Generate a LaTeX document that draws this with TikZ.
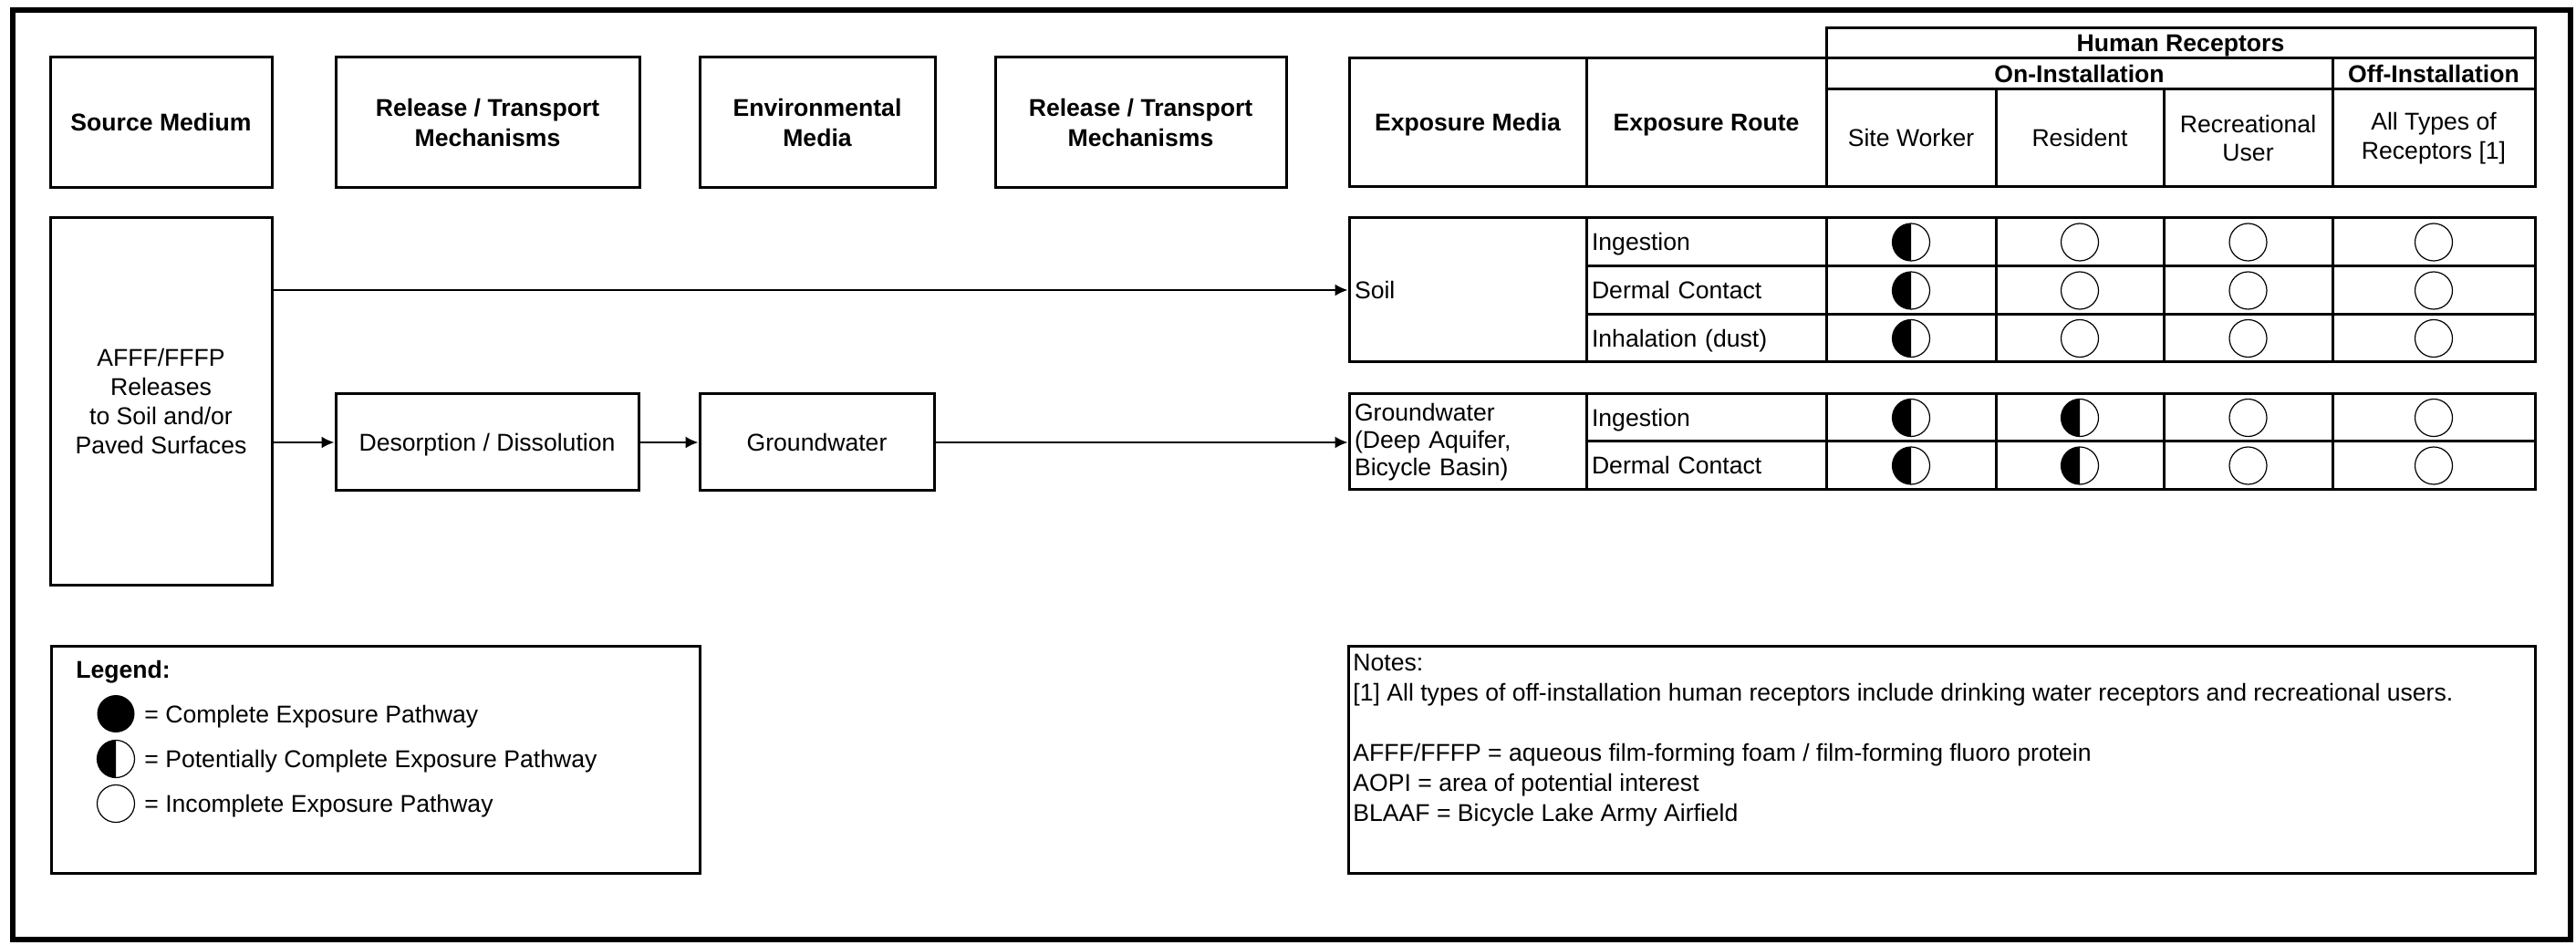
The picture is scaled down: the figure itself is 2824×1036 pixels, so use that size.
\documentclass[tikz,border=0pt]{standalone}
\usepackage{fontspec}
\setmainfont{Liberation Sans}
\usetikzlibrary{arrows.meta}
\begin{document}
\begin{tikzpicture}[x=0.5pt,y=-0.5pt,
  every node/.style={font=\fontsize{13.3}{16}\selectfont, inner sep=0pt},
  one/.style={text height=9.5pt, text depth=0pt},
  box/.style={draw, line width=1.5pt, align=center},
  hdr/.style={box, font=\fontsize{13.3}{16.5}\selectfont\bfseries},
  cell/.style={draw, line width=1.5pt, align=center},
  lcell/.style={draw, line width=1.5pt, align=left, inner xsep=3pt},
  flow/.style={line width=1pt, -{Latex[length=7pt,width=6.5pt]}},
  pfull/.pic={\fill[black] (0,0) circle[radius=10.25pt];},
  phalf/.pic={\fill[black] (0,10.25pt) arc[start angle=90,end angle=270,radius=10.25pt] -- cycle;
              \draw[line width=0.6pt] (0,0) circle[radius=10.25pt];},
  pnone/.pic={\draw[line width=0.6pt] (0,0) circle[radius=10.25pt];}
]
\useasboundingbox (0,0) rectangle (2824,1036);
% outer frame
\draw[line width=3pt] (14,11) rectangle (2818,1030);

% column headings of the pathway flow
\node[hdr, one, minimum width=121.5pt, minimum height=71.5pt] (hsrc) at (176.5,134.5) {Source Medium};
\node[hdr, minimum width=166.5pt, minimum height=71.5pt] (hrel1) at (534.5,134.5) {Release / Transport\\Mechanisms};
\node[hdr, minimum width=129pt, minimum height=71.5pt] (henv) at (896,134.5) {Environmental\\Media};
\node[hdr, minimum width=159.5pt, minimum height=71.5pt] (hrel2) at (1250.5,134.5) {Release / Transport\\Mechanisms};

% receptor table heading
\node[hdr, one, minimum width=130pt, minimum height=70.5pt] (hmedia) at (1609,134.5) {Exposure Media};
\node[hdr, one, minimum width=131.5pt, minimum height=70.5pt] (hroute) at (1870.5,134.5) {Exposure Route};
\node[hdr, one, minimum width=388.5pt, minimum height=16.5pt] (hhuman) at (2390.5,47.5) {Human Receptors};
\node[hdr, one, minimum width=277.5pt, minimum height=17pt] (hon) at (2279.5,81) {On-Installation};
\node[hdr, one, minimum width=111pt, minimum height=17pt] (hoff) at (2668,81) {Off-Installation};
\node[box, one, minimum width=93pt, minimum height=53.5pt] (hsw) at (2095,151.5) {Site Worker};
\node[box, one, minimum width=92pt, minimum height=53.5pt] (hres) at (2280,151.5) {Resident};
\node[box, minimum width=92.5pt, minimum height=53.5pt] (hrec) at (2464.5,151.5) {Recreational\\User};
\node[box, minimum width=111pt, minimum height=53.5pt] (hall) at (2668,151.5) {All Types of\\Receptors [1]};

% exposure media
\node[lcell, one, minimum width=130pt, minimum height=79pt, text width=124pt] (soil) at (1609,318) {Soil};
\node[lcell, minimum width=130pt, minimum height=52.5pt, text width=124pt,
      font=\fontsize{13.3}{15}\selectfont] (gwm) at (1609,484.5) {Groundwater\\(Deep Aquifer,\\Bicycle Basin)};

% exposure routes and pathway status per receptor
\foreach \r/\yc/\h/\route/\a/\b/\c/\d in {
    s1/265.5/26.5pt/Ingestion/phalf/pnone/pnone/pnone,
    s2/318.5/26.5pt/Dermal Contact/phalf/pnone/pnone/pnone,
    s3/371/26pt/Inhalation (dust)/phalf/pnone/pnone/pnone,
    g1/458/26pt/Ingestion/phalf/phalf/pnone/pnone,
    g2/510.5/26.5pt/Dermal Contact/phalf/phalf/pnone/pnone} {
  \node[lcell, one, minimum width=131.5pt, minimum height=\h, text width=125.5pt] (rt-\r) at (1870.5,\yc) {\route};
  \node[cell, minimum width=93pt, minimum height=\h] (sw-\r) at (2095,\yc) {};
  \node[cell, minimum width=92pt, minimum height=\h] (res-\r) at (2280,\yc) {};
  \node[cell, minimum width=92.5pt, minimum height=\h] (rec-\r) at (2464.5,\yc) {};
  \node[cell, minimum width=111pt, minimum height=\h] (all-\r) at (2668,\yc) {};
  \pic at (sw-\r) {\a};
  \pic at (res-\r) {\b};
  \pic at (rec-\r) {\c};
  \pic at (all-\r) {\d};
}

% source, transport and media boxes
\node[box, minimum width=121.5pt, minimum height=201pt] (src) at (176.5,440) {AFFF/FFFP\\Releases\\to Soil and/or\\Paved Surfaces};
\node[box, one, minimum width=166pt, minimum height=53pt] (des) at (534,485) {Desorption / Dissolution};
\node[box, one, minimum width=128.5pt, minimum height=53pt] (gwb) at (895.5,485) {Groundwater};

% pathways
\draw[flow] (src.east |- soil.west) -- (soil.west);
\draw[flow] (src.east |- des.west) -- (des.west);
\draw[flow] (des) -- (gwb);
\draw[flow] (gwb.east) -- (gwb.east -| gwm.west);

% legend
\node[box, minimum width=355.5pt, minimum height=124.5pt] (legend) at (411.5,832.5) {};
\node[anchor=base west, font=\fontsize{13.3}{16}\selectfont\bfseries] (legtitle) at (83,743) {Legend:};
\pic at (127,782.5) {pfull};
\node[anchor=base west] (lg1) at (158,792) {= Complete Exposure Pathway};
\pic at (127,832) {phalf};
\node[anchor=base west] (lg2) at (158,841.5) {= Potentially Complete Exposure Pathway};
\pic at (127,881) {pnone};
\node[anchor=base west] (lg3) at (158,890.5) {= Incomplete Exposure Pathway};

% notes
\node[box, minimum width=650.5pt, minimum height=124.5pt] (notes) at (2128.5,832.5) {};
\node[anchor=north west, align=left, font=\fontsize{13.3}{16.5}\selectfont] (notestext) at (1483,717)
  {Notes:\\
   {[1]} All types of off-installation human receptors include drinking water receptors and recreational users.\\[16.5pt]
   AFFF/FFFP = aqueous film-forming foam / film-forming fluoro protein\\
   AOPI = area of potential interest\\
   BLAAF = Bicycle Lake Army Airfield};
\end{tikzpicture}
\end{document}
